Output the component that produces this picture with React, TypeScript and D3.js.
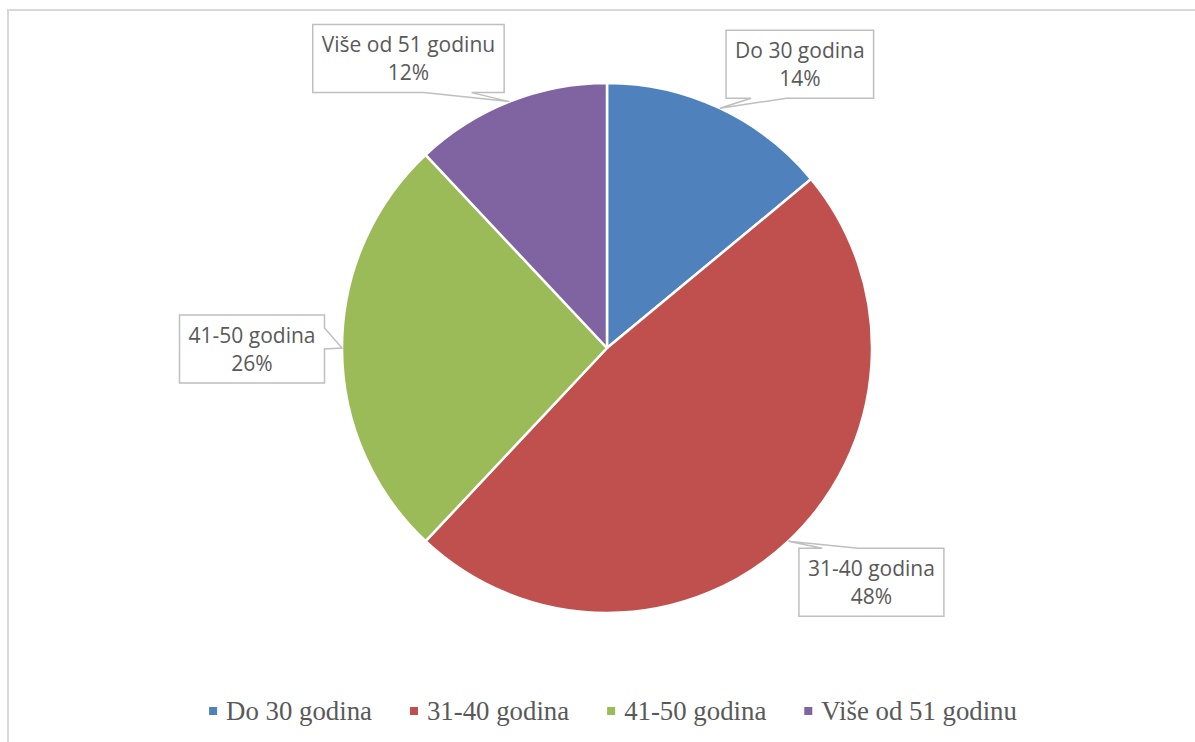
import { useEffect, useRef } from 'react';
import { arc, pie, select, PieArcDatum } from 'd3';

const categories = ['Do 30 godina', '31-40 godina', '41-50 godina', 'Više od 51 godinu'];
const shares = [14, 48, 26, 12];
const colors = ['#4F81BD', '#C0504D', '#9BBB59', '#8064A2'];

// callout placement relative to the slice tip (layout only)
const calloutLayout = [
  { dx: 80, dy: -44, side: 'bottom', base: [0.17, 0.41] },
  { dx: 83, dy: 41, side: 'top', base: [0.16, 0.41] },
  { dx: -90, dy: 1, side: 'right', base: [0.19, 0.5] },
  { dx: -101, dy: -43, side: 'bottom', base: [0.58, 0.83] },
];

const W = 1195;
const H = 742;
const cx = 607;
const cy = 348;
const radius = 265;

type Slice = { name: string; value: number; color: string };

export default function App() {
  const svgRef = useRef<SVGSVGElement | null>(null);

  useEffect(() => {
    const el = svgRef.current;
    if (!el) return;
    const svg = select(el);
    svg.selectAll('*').remove();

    // frame
    svg.append('rect')
      .attr('x', 8).attr('y', 10).attr('width', W + 20).attr('height', H + 20)
      .attr('fill', '#fff').attr('stroke', '#d9d9d9').attr('stroke-width', 2);

    const data: Slice[] = categories.map((name, i) => ({ name, value: shares[i], color: colors[i] }));
    const pieGen = pie<Slice>().value((d) => d.value).sort(null);
    const arcs = pieGen(data);
    const arcGen = arc<PieArcDatum<Slice>>().innerRadius(0).outerRadius(radius);

    const g = svg.append('g').attr('transform', `translate(${cx},${cy})`);
    g.selectAll('path')
      .data(arcs)
      .join('path')
      .attr('d', arcGen)
      .attr('fill', (d) => d.data.color)
      .attr('stroke', '#fff')
      .attr('stroke-width', 2.5)
      .attr('stroke-linejoin', 'round');

    // callouts
    arcs.forEach((a, i) => {
      const mid = (a.startAngle + a.endAngle) / 2;
      const tipX = cx + radius * Math.sin(mid);
      const tipY = cy - radius * Math.cos(mid);
      const lay = calloutLayout[i];
      const bx = tipX + lay.dx;
      const by = tipY + lay.dy;

      const lg = svg.append('g');
      const path = lg.append('path').attr('fill', '#fff').attr('stroke', '#bfbfbf').attr('stroke-width', 1.5);
      const t1 = lg.append('text')
        .attr('x', bx).attr('y', by - 6.5)
        .attr('text-anchor', 'middle')
        .attr('font-family', '"Open Sans", sans-serif')
        .attr('font-size', 21)
        .attr('fill', '#595959')
        .text(a.data.name);
      const t2 = lg.append('text')
        .attr('x', bx).attr('y', by + 21.5)
        .attr('text-anchor', 'middle')
        .attr('font-family', '"Open Sans", sans-serif')
        .attr('font-size', 21)
        .attr('fill', '#595959')
        .text(`${a.data.value}%`);
      const tw = Math.max((t1.node() as SVGTextElement).getComputedTextLength(), (t2.node() as SVGTextElement).getComputedTextLength());
      const w = tw + 18;
      const h = 68;
      const left = bx - w / 2;
      const right = bx + w / 2;
      const top = by - h / 2;
      const bottom = by + h / 2;
      const [f1, f2] = lay.base;
      let d = '';
      if (lay.side === 'bottom') {
        d = `M${left},${top}H${right}V${bottom}H${left + f2 * w}L${tipX},${tipY}L${left + f1 * w},${bottom}H${left}Z`;
      } else if (lay.side === 'top') {
        d = `M${left},${top}H${left + f1 * w}L${tipX},${tipY}L${left + f2 * w},${top}H${right}V${bottom}H${left}Z`;
      } else if (lay.side === 'right') {
        d = `M${left},${top}H${right}V${top + f1 * h}L${tipX},${tipY}L${right},${top + f2 * h}V${bottom}H${left}Z`;
      } else {
        d = `M${left},${top}H${right}V${bottom}H${left}V${top + f2 * h}L${tipX},${tipY}L${left},${top + f1 * h}Z`;
      }
      path.attr('d', d);
    });

    // legend
    const legend = svg.append('g');
    const items = data.map((d) => {
      const ig = legend.append('g');
      ig.append('rect').attr('x', 0).attr('y', -4).attr('width', 8).attr('height', 8).attr('fill', d.color);
      const t = ig.append('text')
        .attr('x', 17).attr('y', 9)
        .attr('font-family', '"Liberation Serif", "Times New Roman", serif')
        .attr('font-size', 26.8)
        .attr('fill', '#595959')
        .text(d.name);
      const width = 17 + (t.node() as SVGTextElement).getComputedTextLength();
      return { ig, width };
    });
    const gap = 38;
    const total = items.reduce((s, it) => s + it.width, 0) + gap * (items.length - 1);
    let x = 613 - total / 2;
    items.forEach((it) => {
      it.ig.attr('transform', `translate(${x},711)`);
      x += it.width + gap;
    });
  }, []);

  return (
    <div style={{ position: 'absolute', left: 0, top: 0, width: W, height: H, overflow: 'hidden', background: '#fff' }}>
      <svg ref={svgRef} width={W} height={H} />
    </div>
  );
}
